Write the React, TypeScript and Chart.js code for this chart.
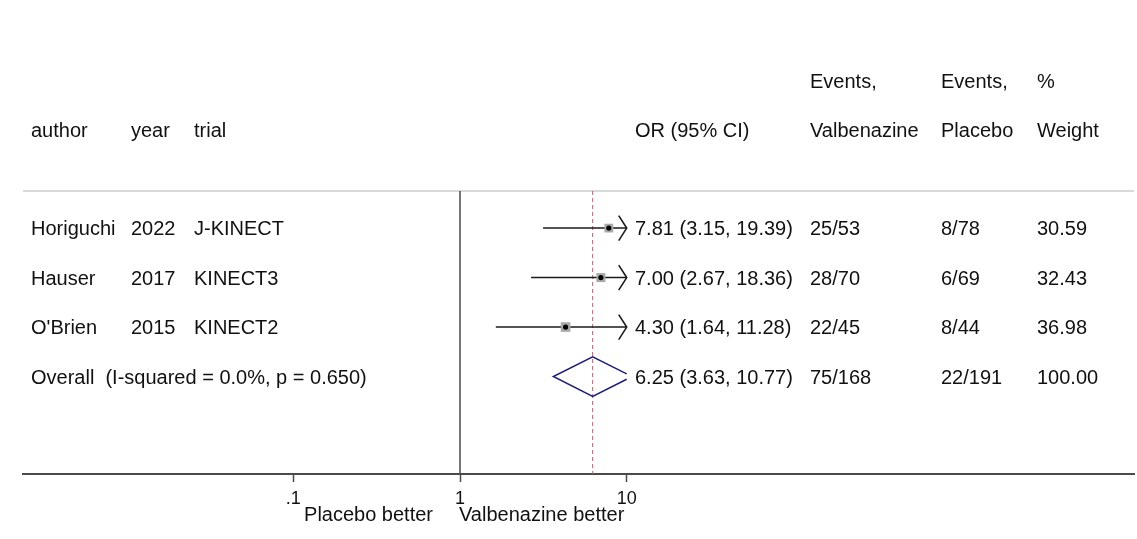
import React, { useEffect, useRef } from "react";
import { Chart, registerables } from "chart.js";

Chart.register(...registerables);

// ---- study data ----
const AUTHORS = ["Horiguchi", "Hauser", "O'Brien"];
const YEARS = ["2022", "2017", "2015"];
const TRIALS = ["J-KINECT", "KINECT3", "KINECT2"];
const ODDS_RATIOS = [7.81, 7.0, 4.3];
const CI_LOW = [3.15, 2.67, 1.64];
const CI_HIGH = [19.39, 18.36, 11.28];
const EVENTS_VALBENAZINE = ["25/53", "28/70", "22/45"];
const EVENTS_PLACEBO = ["8/78", "6/69", "8/44"];
const WEIGHTS = [30.59, 32.43, 36.98];

// ---- pooled estimate ----
const POOLED_OR = 6.25;
const POOLED_LOW = 3.63;
const POOLED_HIGH = 10.77;
const POOLED_EVENTS_VALBENAZINE = "75/168";
const POOLED_EVENTS_PLACEBO = "22/191";
const POOLED_WEIGHT = 100.0;
const OVERALL_LABEL = "Overall  (I-squared = 0.0%, p = 0.650)";

// ---- axis ----
const X_TICKS = [0.1, 1, 10];
const X_TICK_LABELS = [".1", "1", "10"];
const FAVOURS_LEFT = "Placebo better";
const FAVOURS_RIGHT = "Valbenazine better";

// ---- column headers ----
const HEADER_TOP = ["", "", "", "", "Events,", "Events,", "%"];
const HEADER_BOTTOM = ["author", "year", "trial", "OR (95% CI)", "Valbenazine", "Placebo", "Weight"];

// ---- layout ----
const W = 1137;
const H = 539;
const FONT = '"Liberation Sans", Arial, sans-serif';
const FONT_SIZE = 20;
const COL_X = [31, 131, 194, 635, 810, 941, 1037];
const HEADER_ROWS = [-1.97, -0.98];
const X_MIN = 0.00239;
const X_MAX = 11046;
const Y_MIN = 0.25;
const Y_MAX = 5.97;
const DIAMOND_HALF = 0.4;

const fmt = (v: number) => v.toFixed(2);

export default function App() {
  const ref = useRef<HTMLCanvasElement>(null);

  useEffect(() => {
    if (!ref.current) return;
    const rows = AUTHORS.map((_, i) => i + 1);
    const pooledRow = AUTHORS.length + 1;
    const xCap = X_TICKS[X_TICKS.length - 1];

    // pooled diamond, truncated at the top of the axis range
    const lg = Math.log10;
    const capFrac =
      POOLED_HIGH > xCap ? (lg(POOLED_HIGH) - lg(xCap)) / (lg(POOLED_HIGH) - lg(POOLED_OR)) : 0;
    const rightX = Math.min(POOLED_HIGH, xCap);
    const diamond = [
      { x: rightX, y: pooledRow - DIAMOND_HALF * capFrac },
      { x: POOLED_OR, y: pooledRow - DIAMOND_HALF },
      { x: POOLED_LOW, y: pooledRow },
      { x: POOLED_OR, y: pooledRow + DIAMOND_HALF },
      { x: rightX, y: pooledRow + DIAMOND_HALF * capFrac },
    ];
    if (capFrac === 0) diamond.push(diamond[0]);

    const ciLines = rows.map((r, i) => ({
      data: [
        { x: CI_LOW[i], y: r },
        { x: Math.min(CI_HIGH[i], xCap), y: r },
      ],
      showLine: true,
      borderColor: "#1a1a1a",
      borderWidth: 1.5,
      pointRadius: 0,
      order: 3,
    }));

    const arrowPlugin = {
      id: "ciArrows",
      afterDatasetsDraw(chart: any) {
        const { ctx } = chart;
        const xs = chart.scales.x;
        const ys = chart.scales.y;
        ctx.save();
        ctx.strokeStyle = "#1a1a1a";
        ctx.lineWidth = 1.6;
        rows.forEach((r, i) => {
          if (CI_HIGH[i] <= xCap) return;
          const px = xs.getPixelForValue(xCap);
          const py = ys.getPixelForValue(r);
          ctx.beginPath();
          ctx.moveTo(px - 8, py - 12.5);
          ctx.lineTo(px, py);
          ctx.lineTo(px - 8, py + 12.5);
          ctx.stroke();
        });
        ctx.restore();
      },
    };

    const textPlugin = {
      id: "forestText",
      afterDraw(chart: any) {
        const { ctx } = chart;
        const xs = chart.scales.x;
        const ys = chart.scales.y;
        const base = (row: number) => ys.getPixelForValue(row) + FONT_SIZE * 0.36;
        ctx.save();
        ctx.font = `${FONT_SIZE}px ${FONT}`;
        ctx.fillStyle = "#111";
        ctx.textBaseline = "alphabetic";
        ctx.textAlign = "left";

        [HEADER_TOP, HEADER_BOTTOM].forEach((hdr, k) => {
          hdr.forEach((t, c) => {
            if (t) ctx.fillText(t, COL_X[c], base(HEADER_ROWS[k]));
          });
        });

        rows.forEach((r, i) => {
          const cells = [
            AUTHORS[i],
            YEARS[i],
            TRIALS[i],
            `${fmt(ODDS_RATIOS[i])} (${fmt(CI_LOW[i])}, ${fmt(CI_HIGH[i])})`,
            EVENTS_VALBENAZINE[i],
            EVENTS_PLACEBO[i],
            fmt(WEIGHTS[i]),
          ];
          cells.forEach((t, c) => ctx.fillText(t, COL_X[c], base(r)));
        });

        const pb = base(pooledRow);
        ctx.fillText(OVERALL_LABEL, COL_X[0], pb);
        ctx.fillText(`${fmt(POOLED_OR)} (${fmt(POOLED_LOW)}, ${fmt(POOLED_HIGH)})`, COL_X[3], pb);
        ctx.fillText(POOLED_EVENTS_VALBENAZINE, COL_X[4], pb);
        ctx.fillText(POOLED_EVENTS_PLACEBO, COL_X[5], pb);
        ctx.fillText(fmt(POOLED_WEIGHT), COL_X[6], pb);

        // favours labels under the axis
        const nullX = xs.getPixelForValue(1);
        const fy = chart.chartArea.bottom + 46.5;
        ctx.textAlign = "right";
        ctx.fillText(FAVOURS_LEFT, nullX - 27, fy);
        ctx.textAlign = "left";
        ctx.fillText(FAVOURS_RIGHT, nullX - 1, fy);
        ctx.restore();
      },
    };

    const chart = new Chart(ref.current, {
      type: "scatter",
      data: {
        datasets: [
          {
            data: ODDS_RATIOS.map((v, i) => ({ x: v, y: rows[i] })),
            pointStyle: "circle",
            pointRadius: 2.6,
            backgroundColor: "#000",
            borderWidth: 0,
            order: 1,
          },
          {
            data: ODDS_RATIOS.map((v, i) => ({ x: v, y: rows[i] })),
            pointStyle: "rect",
            pointRadius: WEIGHTS.map((w) => Math.sqrt(w) * 1.12),
            backgroundColor: "#a9a9a9",
            borderWidth: 0,
            order: 2,
          },
          ...ciLines,
          {
            data: diamond,
            showLine: true,
            borderColor: "#1f1f7a",
            borderWidth: 1.5,
            pointRadius: 0,
            order: 4,
          },
          {
            data: [
              { x: POOLED_OR, y: Y_MIN },
              { x: POOLED_OR, y: Y_MAX },
            ],
            showLine: true,
            borderColor: "#c4566b",
            borderWidth: 1,
            borderDash: [4, 3],
            pointRadius: 0,
            order: 5,
          },
          {
            data: [
              { x: 1, y: Y_MIN },
              { x: 1, y: Y_MAX },
            ],
            showLine: true,
            borderColor: "#4a4a4a",
            borderWidth: 1.5,
            pointRadius: 0,
            order: 6,
          },
          {
            data: [
              { x: X_MIN, y: Y_MIN },
              { x: X_MAX, y: Y_MIN },
            ],
            showLine: true,
            borderColor: "#d9d9d9",
            borderWidth: 2,
            pointRadius: 0,
            clip: false,
            order: 7,
          },
        ] as any,
      },
      options: {
        responsive: false,
        animation: false,
        events: [],
        layout: { autoPadding: false, padding: { left: 23, right: 3, top: 191, bottom: 0 } },
        plugins: { legend: { display: false }, tooltip: { enabled: false } },
        scales: {
          x: {
            type: "logarithmic",
            min: X_MIN,
            max: X_MAX,
            afterBuildTicks: (scale: any) => {
              scale.ticks = X_TICKS.map((v) => ({ value: v }));
            },
            afterFit: (scale: any) => {
              scale.height = 65;
              scale.paddingLeft = 0;
              scale.paddingRight = 0;
            },
            ticks: {
              autoSkip: false,
              maxRotation: 0,
              padding: 6,
              color: "#111",
              font: { family: FONT, size: 18 },
              callback: (_v: any, i: number) => X_TICK_LABELS[i],
            },
            grid: {
              display: true,
              drawOnChartArea: false,
              drawTicks: true,
              tickLength: 8,
              tickColor: "#4a4a4a",
              tickWidth: 1.5,
            },
            border: { display: true, color: "#4a4a4a", width: 2 },
          },
          y: {
            type: "linear",
            display: false,
            reverse: true,
            min: Y_MIN,
            max: Y_MAX,
          },
        },
      } as any,
      plugins: [arrowPlugin, textPlugin],
    });

    return () => chart.destroy();
  }, []);

  return (
    <div style={{ position: "fixed", left: 0, top: 0, width: W, height: H, background: "#fff" }}>
      <canvas ref={ref} width={W} height={H} style={{ display: "block", width: W, height: H }} />
    </div>
  );
}
